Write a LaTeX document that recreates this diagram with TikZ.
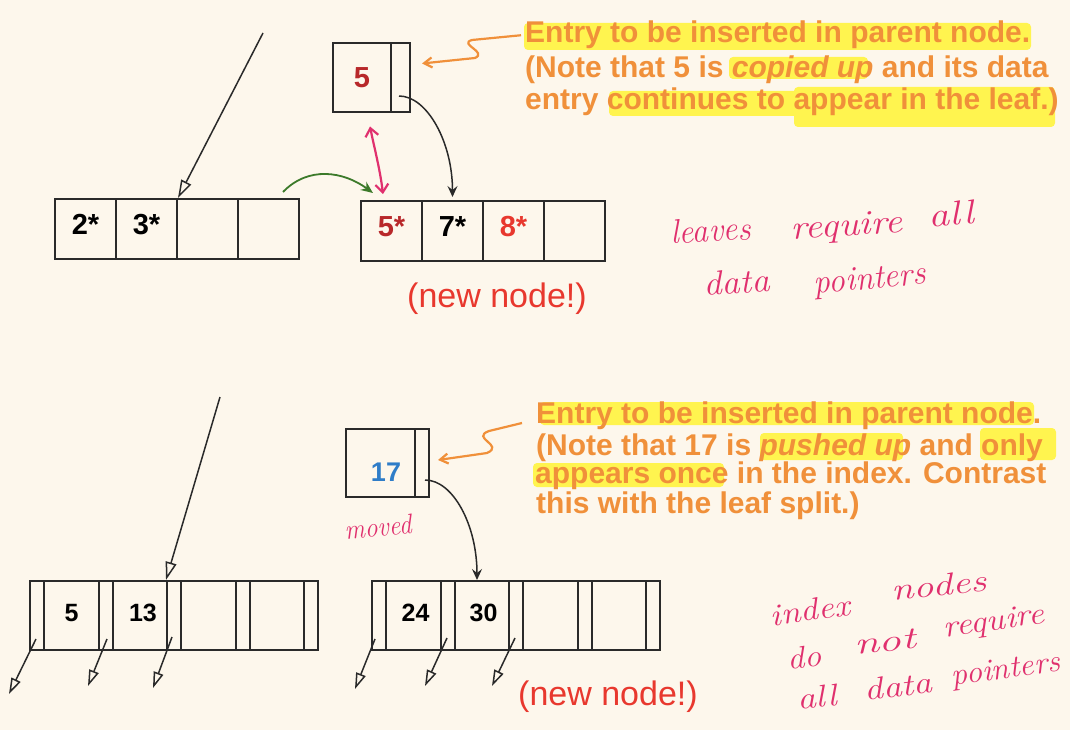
\documentclass[tikz,border=0pt]{standalone}
\usepackage{fontspec}
\usepackage{graphicx}
\setsansfont{Liberation Sans}
\usetikzlibrary{arrows.meta}
\definecolor{bg}{HTML}{FDF7EC}
\definecolor{orng}{HTML}{F0903A}
\definecolor{hl}{HTML}{FFF44F}
\definecolor{dred}{HTML}{B8282A}
\definecolor{nred}{HTML}{E8382E}
\definecolor{kblue}{HTML}{2F7DC8}
\definecolor{pinkh}{HTML}{E0306E}
\definecolor{grn}{HTML}{3C7A2A}
\definecolor{ln}{HTML}{2A2A2A}
\newcommand{\hw}[2]{\resizebox{#1}{\height}{#2}}
\tikzset{
  leafcell/.style={draw=ln, line width=2pt, inner sep=0pt, minimum width=61pt, minimum height=60pt,
    font=\sffamily\bfseries\fontsize{29}{29}\selectfont, text height=21pt, text depth=10pt},
  pbox/.style={draw=ln, line width=2pt, inner sep=0pt, minimum height=69pt,
    font=\sffamily\bfseries\fontsize{29}{29}\selectfont},
  ptrslot/.style={draw=ln, line width=2pt, inner sep=0pt, minimum width=14pt, minimum height=69pt},
  keycell/.style={draw=ln, line width=2pt, inner sep=0pt, minimum height=69pt,
    font=\sffamily\bfseries\fontsize{25}{25}\selectfont, text height=18pt, text depth=6pt},
  notetext/.style={anchor=base west, inner sep=0pt, text=orng, font=\sffamily\bfseries\fontsize{30}{30}\selectfont},
  newtext/.style={anchor=base west, inner sep=0pt, text=nred, font=\sffamily\fontsize{34}{34}\selectfont},
  hand/.style={inner sep=0pt, text=pinkh, font=\rmfamily\itshape\fontsize{34}{34}\selectfont},
  handsm/.style={hand, font=\rmfamily\itshape\fontsize{31}{31}\selectfont},
  longarrow/.style={draw=ln, line width=1.5pt, -{Triangle[open, length=18pt, width=11pt]}},
  ptrarrow/.style={draw=ln, line width=1.5pt, -{Triangle[open, length=16pt, width=10pt]}},
  curvearrow/.style={draw=ln, line width=1.5pt, -{Stealth[length=11pt, width=10pt, inset=4pt]}},
  greenarrow/.style={draw=grn, line width=1.8pt, -{Stealth[length=12pt, width=10pt, inset=4pt]}},
  pinkarrow/.style={draw=pinkh, line width=2.2pt, {Straight Barb[length=8pt, width=13pt]}-{Straight Barb[length=8pt, width=13pt]}},
  orangearrow/.style={draw=orng, line width=2.2pt, -{Straight Barb[length=8pt, width=10pt]}},
  hlfill/.style={fill=hl, rounded corners=4pt},
}
\begin{document}
\begin{tikzpicture}[x=1pt, y=-1pt]
\fill[bg] (0,0) rectangle (1070,730);
\useasboundingbox (0,0) rectangle (1070,730);

% highlights
\fill[hlfill] (524,23) rectangle (1031,50);
\fill[hlfill] (729,57) rectangle (868,79);
\fill[hlfill] (609,91) rectangle (800,116);
\fill[hlfill] (794,87) rectangle (1055,127);
\fill[hlfill] (540,402) rectangle (1034,425);
\fill[hlfill] (760,433) rectangle (903,460);
\fill[hlfill] (980,428) rectangle (1056,460);
\fill[hlfill] (533,463) rectangle (724,487);

% top leaves
\node[leafcell] (L1) at (85.5,229) {2*};
\node[leafcell] (L2) at (146.5,229) {3*};
\node[leafcell] (L3) at (207.5,229) {};
\node[leafcell] (L4) at (268.5,229) {};
\node[leafcell, text=dred] (R1) at (391.5,231) {5*};
\node[leafcell] (R2) at (452.5,231) {7*};
\node[leafcell, text=nred] (R3) at (513.5,231) {8*};
\node[leafcell] (R4) at (574.5,231) {};

% top parent entry
\node[pbox, minimum width=58pt, text=dred] (P5k) at (362,77.5) {5};
\node[pbox, minimum width=19pt] (P5p) at (400.5,77.5) {};

% bottom index nodes
\node[ptrslot] (LP1) at (37,615.5) {};
\node[keycell, minimum width=55pt] (LK1) at (71.5,615.5) {5};
\node[ptrslot] (LP2) at (106,615.5) {};
\node[keycell, minimum width=54pt] (LK2) at (140,615.5) {\hspace*{6pt}13};
\node[ptrslot] (LP3) at (174,615.5) {};
\node[keycell, minimum width=55pt] (LK3) at (208.5,615.5) {};
\node[ptrslot] (LP4) at (243,615.5) {};
\node[keycell, minimum width=54pt] (LK4) at (277,615.5) {};
\node[ptrslot] (LP5) at (311,615.5) {};

\node[ptrslot] (RP1) at (379,615.5) {};
\node[keycell, minimum width=55pt] (RK1) at (413.5,615.5) {\hspace*{4pt}24};
\node[ptrslot] (RP2) at (448,615.5) {};
\node[keycell, minimum width=54pt] (RK2) at (482,615.5) {\hspace*{3pt}30};
\node[ptrslot] (RP3) at (516,615.5) {};
\node[keycell, minimum width=55pt] (RK3) at (550.5,615.5) {};
\node[ptrslot] (RP4) at (585,615.5) {};
\node[keycell, minimum width=54pt] (RK4) at (619,615.5) {};
\node[ptrslot] (RP5) at (653,615.5) {};

% bottom parent entry
\node[pbox, minimum width=69pt, minimum height=68pt, text=kblue, font=\sffamily\bfseries\fontsize{27}{27}\selectfont, text height=37pt] (P17k) at (380.5,463) {\hspace*{11pt}17};
\node[pbox, minimum width=14pt, minimum height=68pt] (P17p) at (422,463) {};

% note texts
\node[notetext] (T1) at (525,43) {Entry to be inserted in parent node.};
\node[notetext] (T2) at (525,78) {(Note that 5 is \textit{copied up} and its data};
\node[notetext] (T3) at (525,110) {entry continues to appear in the leaf.)};
\node[notetext] (B1) at (536,423) {Entry to be inserted in parent node.};
\node[notetext] (B2) at (536,455) {(Note that 17 is \textit{pushed up} and only};
\node[notetext] (B3) at (535,483) {appears once in the index. Contrast};
\node[notetext] (B4) at (536,513) {this with the leaf split.)};

\node[newtext] (NN1) at (407,307) {(new node!)};
\node[newtext] (NN2) at (518,705) {(new node!)};

% handwritten notes, word by word
\node[hand, rotate=3] (HWa) at (711,230) {\hw{80pt}{leaves}};
\node[hand, rotate=4] (HWb) at (847,228) {\hw{112pt}{require}};
\node[hand, rotate=6] (HWc) at (951,214) {\hw{45pt}{all}};
\node[hand, rotate=4] (HWd) at (737,282) {\hw{66pt}{data}};
\node[hand, rotate=5] (HWe) at (870,281) {\hw{112pt}{pointers}};
\node[hand, rotate=5, font=\rmfamily\itshape\fontsize{28}{28}\selectfont] (HWf) at (378,527) {\hw{67pt}{moved}};
\node[handsm, rotate=8] (HWg) at (810,610) {\hw{80pt}{index}};
\node[handsm, rotate=6] (HWh) at (939,585) {\hw{95pt}{nodes}};
\node[handsm, rotate=6] (HWi) at (804,657) {\hw{34pt}{do}};
\node[handsm, rotate=6] (HWj) at (885,642) {\hw{62pt}{not}};
\node[handsm, rotate=8] (HWk) at (994,623) {\hw{102pt}{require}};
\node[handsm, rotate=6] (HWl) at (817,697) {\hw{40pt}{all}};
\node[handsm, rotate=7] (HWm) at (898,686) {\hw{68pt}{data}};
\node[handsm, rotate=8] (HWn) at (1006,671) {\hw{110pt}{pointers}};

% connectors, top
\coordinate (t1) at (263,33);
\draw[longarrow] (t1) -- (L2.north east);
\draw[curvearrow] ([xshift=-1.5pt,yshift=-18.5pt]P5p.center) .. controls +(28,0) and +(0,-55) .. ([yshift=3pt]R2.north);
\draw[greenarrow] ([xshift=-17pt,yshift=6pt]L4.north east) .. controls +(25,-26) and +(-30,-22) .. ([xshift=13pt,yshift=7pt]R1.north west);
\draw[pinkarrow] ([xshift=8pt,yshift=-13.5pt]P5k.south) .. controls +(4,20) and +(-3,-25) .. ([xshift=23pt,yshift=6pt]R1.north west);
\coordinate (o1a) at (472,40);
\coordinate (o1b) at (475,58);
\draw[orangearrow] ([xshift=-4pt]T1.west) -- (o1a) .. controls (458,44) and (488,52) .. (o1b) -- ([xshift=11pt,yshift=14pt]P5p.east);

% connectors, bottom
\coordinate (t2) at (220,397);
\draw[longarrow] (t2) -- (LP3.north west);
\draw[curvearrow] ([xshift=3pt,yshift=-17pt]P17p.center) .. controls +(28,0) and +(0,-55) .. ([xshift=-5pt]RK2.north);
\coordinate (o2a) at (489,431);
\coordinate (o2b) at (487,453);
\draw[orangearrow] ([xshift=-14pt]B1.base west) -- (o2a) .. controls (470,438) and (505,445) .. (o2b) -- ([xshift=8pt,yshift=3pt]P17p.east);

\coordinate (la1) at (9,694);
\coordinate (la2) at (88,686);
\coordinate (la3) at (153,688);
\coordinate (ra1) at (355,689);
\coordinate (ra2) at (425,686);
\coordinate (ra3) at (492,686);
\draw[ptrarrow] ([xshift=-1pt,yshift=12pt]LP1.south) -- (la1);
\draw[ptrarrow] ([xshift=1pt,yshift=12pt]LP2.south) -- (la2);
\draw[ptrarrow] ([xshift=-2pt,yshift=14pt]LP3.south) -- (la3);
\draw[ptrarrow] ([xshift=-4pt,yshift=12pt]RP1.south) -- (ra1);
\draw[ptrarrow] ([xshift=-1pt,yshift=13pt]RP2.south) -- (ra2);
\draw[ptrarrow] ([xshift=-1pt,yshift=13pt]RP3.south) -- (ra3);
\end{tikzpicture}
\end{document}
